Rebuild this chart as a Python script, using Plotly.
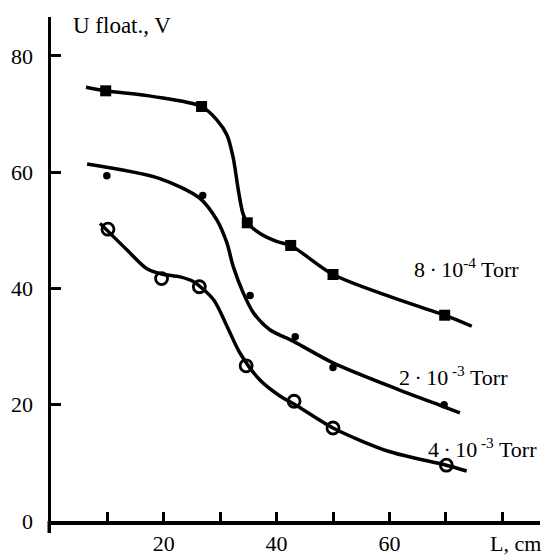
import plotly.graph_objects as go

# ---- data ----
# 8·10^-4 Torr (filled squares)
sq_x = [9.7, 26.7, 34.8, 42.5, 50.0, 69.8]
sq_y = [74.0, 71.3, 51.3, 47.4, 42.4, 35.4]
sq_curve_x = [6.2, 9.7, 18.2, 26.7, 29.4, 31.2, 32.3, 33.2, 34.0, 34.8, 37.0, 40.0, 42.5, 50.0, 60.1, 69.8, 74.6]
sq_curve_y = [74.6, 74.0, 73.0, 71.3, 69.0, 66.4, 62.5, 57.0, 53.0, 51.3, 49.5, 48.1, 47.4, 42.4, 38.6, 35.4, 33.5]

# 2·10^-3 Torr (small filled dots)
dot_x = [9.9, 26.9, 35.3, 43.3, 50.0, 69.7]
dot_y = [59.4, 56.0, 38.8, 31.7, 26.4, 20.0]
dot_curve_x = [6.4, 19.3, 26.4, 29.4, 31.2, 32.3, 34.1, 35.9, 38.8, 43.0, 50.0, 61.6, 69.8, 72.5]
dot_curve_y = [61.4, 58.9, 55.5, 51.8, 47.8, 43.8, 39.2, 35.8, 32.9, 30.9, 27.2, 22.6, 19.6, 18.6]

# 4·10^-3 Torr (open circles)
oc_x = [10.1, 19.6, 26.3, 34.6, 43.1, 50.0, 70.1]
oc_y = [50.2, 41.7, 40.3, 26.7, 20.6, 16.0, 9.6]
oc_curve_x = [8.7, 13.4, 17.0, 19.6, 22.9, 25.2, 28.8, 31.2, 33.5, 37.0, 40.6, 43.3, 50.0, 59.8, 70.1, 73.7]
oc_curve_y = [51.2, 46.7, 43.4, 42.5, 42.0, 41.2, 38.1, 33.5, 28.9, 24.3, 21.5, 20.0, 16.0, 12.0, 9.6, 8.6]

x_tickvals = [10, 20, 30, 40, 50, 60, 70, 80]
x_ticktext = [" ", "20", " ", "40", " ", "60", " ", " "]
y_tickvals = [0, 20, 40, 60, 80]
y_ticktext = ["0", "20", "40", "60", "80"]

labels = ["8\u2009·\u200910<sup>-4</sup> Torr", "2\u2009·\u200910<sup> -3</sup> Torr", "4\u2009·\u200910<sup> -3</sup> Torr"]
label_x = [64.0, 61.4, 66.4]
label_y = [43.5, 25.0, 12.6]

FONT = "Liberation Serif"
LW = 3.5
X_RANGE = [0, 86.7]
Y_RANGE = [0, 86.7]

fig = go.Figure()
for cx, cy in [(sq_curve_x, sq_curve_y), (dot_curve_x, dot_curve_y), (oc_curve_x, oc_curve_y)]:
    fig.add_trace(go.Scatter(x=cx, y=cy, mode="lines",
                             line=dict(color="black", width=LW, shape="spline", smoothing=0.8),
                             hoverinfo="skip", showlegend=False))

fig.add_trace(go.Scatter(x=sq_x, y=sq_y, mode="markers",
                         marker=dict(symbol="square", size=11, color="black"), showlegend=False))
fig.add_trace(go.Scatter(x=dot_x, y=dot_y, mode="markers",
                         marker=dict(symbol="circle", size=7.5, color="black"), showlegend=False))
fig.add_trace(go.Scatter(x=oc_x, y=oc_y, mode="markers",
                         marker=dict(symbol="circle-open", size=12, color="black",
                                     line=dict(width=2.8, color="black")), showlegend=False))

annotations = []
for t, ax_, ay_ in zip(labels, label_x, label_y):
    annotations.append(dict(x=ax_, y=ay_, xref="x", yref="y", text=t, showarrow=False,
                            xanchor="left", yanchor="middle",
                            font=dict(family=FONT, size=22, color="black")))
annotations.append(dict(x=3.6, y=1.0, xref="x", yref="paper", text="U float., V", showarrow=False,
                        xanchor="left", yanchor="middle", yshift=-8,
                        font=dict(family=FONT, size=23, color="black")))
annotations.append(dict(x=77.4, y=0, xref="x", yref="paper", text="L, cm", showarrow=False,
                        xanchor="left", yanchor="top", yshift=-8,
                        font=dict(family=FONT, size=22, color="black")))

tickfont = dict(family=FONT, size=22, color="black")
fig.update_layout(
    width=545, height=555,
    margin=dict(l=51, r=5, t=17, b=34, autoexpand=False),
    paper_bgcolor="white", plot_bgcolor="white",
    font=dict(family=FONT, size=22, color="black"),
    hovermode=False,
    annotations=annotations,
    shapes=[dict(type="line", xref="paper", yref="paper",
                 xsizemode="pixel", ysizemode="pixel", xanchor=0, yanchor=0,
                 x0=-1.75, x1=-1.75, y0=0, y1=-12,
                 line=dict(color="black", width=LW))],
    xaxis=dict(range=X_RANGE, showline=True, linewidth=LW, linecolor="black",
               ticks="inside", ticklen=9, tickwidth=3, tickcolor="black",
               tickvals=x_tickvals, ticktext=x_ticktext, ticklabelstandoff=0,
               showgrid=False, zeroline=False, automargin=False, tickfont=tickfont),
    yaxis=dict(range=Y_RANGE, showline=True, linewidth=LW, linecolor="black",
               ticks="inside", ticklen=10, tickwidth=3, tickcolor="black",
               tickvals=y_tickvals, ticktext=y_ticktext, ticklabelstandoff=10,
               showgrid=False, zeroline=False, automargin=False, tickfont=tickfont),
)

fig.write_html("out.html", config={"displayModeBar": False, "staticPlot": True},
               post_script="document.body.style.margin='0';")
